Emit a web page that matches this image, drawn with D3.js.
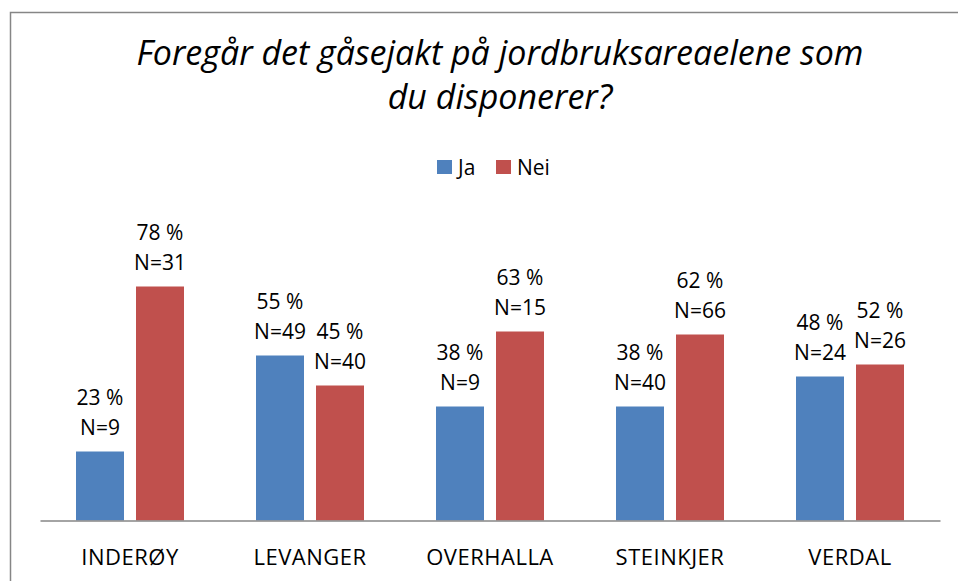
<!DOCTYPE html>
<html lang="no">
<head>
  <meta charset="UTF-8" />
  <title>Gåsejakt på jordbruksarealene</title>
  <script src="https://cdn.jsdelivr.net/npm/d3@7"></script>
  <style>
    body { margin: 0; background: #fff; }
    svg { display: block; font-family: "Open Sans", sans-serif; }
  </style>
</head>
<body>
  <div id="chart"></div>
  <script>
    // data
    var kommuner = ["INDERØY", "LEVANGER", "OVERHALLA", "STEINKJER", "VERDAL"];
    var seriesNames = ["Ja", "Nei"];
    var jaPct = [23, 55, 38, 38, 48];
    var neiPct = [78, 45, 63, 62, 52];
    var jaN = [9, 49, 9, 40, 24];
    var neiN = [31, 40, 15, 66, 26];
    var titleLines = ["Foregår det gåsejakt på jordbruksareaelene som", "du disponerer?"];

    var colors = { "Ja": "#4F81BD", "Nei": "#C0504D" };

    var W = 958, H = 581;
    var axisY = 520.5, plotLeft = 40, plotRight = 940;

    var svg = d3.select("#chart").append("svg")
      .attr("width", W)
      .attr("height", H);

    // outer chart frame (runs off the right and bottom edge)
    svg.append("rect")
      .attr("x", 10.5).attr("y", 12.5)
      .attr("width", 970).attr("height", 600)
      .attr("fill", "none")
      .attr("stroke", "#868686")
      .attr("stroke-width", 1.5);

    // title
    svg.append("text")
      .attr("text-anchor", "middle")
      .attr("font-style", "italic")
      .attr("font-size", 34)
      .attr("fill", "#000")
      .selectAll("tspan")
      .data(titleLines)
      .join("tspan")
      .attr("x", 500)
      .attr("y", (d, i) => 65 + i * 44)
      .text(d => d);

    // legend
    var legendX = [437, 496];
    var legend = svg.append("g");
    seriesNames.forEach(function(name, i) {
      legend.append("rect")
        .attr("x", legendX[i]).attr("y", 160)
        .attr("width", 15).attr("height", 14)
        .attr("fill", colors[name]);
      legend.append("text")
        .attr("x", legendX[i] + 21).attr("y", 175)
        .attr("font-size", 21)
        .text(name);
    });

    var x0 = d3.scaleBand()
      .domain(kommuner)
      .range([plotLeft, plotRight]);

    var x1 = d3.scaleBand()
      .domain(seriesNames)
      .range([x0.bandwidth() / 2 - 54, x0.bandwidth() / 2 + 54])
      .paddingInner(0.2);

    var y = d3.scaleLinear()
      .domain([0, 90])
      .range([axisY, axisY - 270]);

    var rows = [];
    kommuner.forEach(function(k, i) {
      rows.push({ k: k, s: "Ja", pct: jaPct[i], n: jaN[i] });
      rows.push({ k: k, s: "Nei", pct: neiPct[i], n: neiN[i] });
    });

    var bars = svg.append("g");
    bars.selectAll("rect")
      .data(rows)
      .join("rect")
      .attr("x", d => x0(d.k) + x1(d.s))
      .attr("y", d => y(d.pct))
      .attr("width", x1.bandwidth())
      .attr("height", d => y(0) - y(d.pct))
      .attr("fill", d => colors[d.s]);

    // value labels: percent over N
    var labels = svg.append("g")
      .attr("text-anchor", "middle")
      .attr("font-size", 21)
      .attr("fill", "#000");
    labels.selectAll("text.pct")
      .data(rows)
      .join("text")
      .attr("class", "pct")
      .attr("x", d => x0(d.k) + x1(d.s) + x1.bandwidth() / 2)
      .attr("y", d => y(d.pct) - 47)
      .text(d => d.pct + " %");
    labels.selectAll("text.n")
      .data(rows)
      .join("text")
      .attr("class", "n")
      .attr("x", d => x0(d.k) + x1(d.s) + x1.bandwidth() / 2)
      .attr("y", d => y(d.pct) - 17)
      .text(d => "N=" + d.n);

    // category axis
    var xAxis = svg.append("g")
      .attr("transform", "translate(0," + axisY + ")")
      .call(d3.axisBottom(x0).tickSize(0).tickPadding(0));
    xAxis.select(".domain")
      .attr("stroke", "#868686")
      .attr("stroke-width", 1.5);
    xAxis.selectAll("text")
      .attr("dy", null)
      .attr("y", 44)
      .attr("font-size", 22)
      .attr("letter-spacing", 0.5)
      .attr("font-family", "'Open Sans', sans-serif")
      .attr("fill", "#000");
  </script>
</body>
</html>
